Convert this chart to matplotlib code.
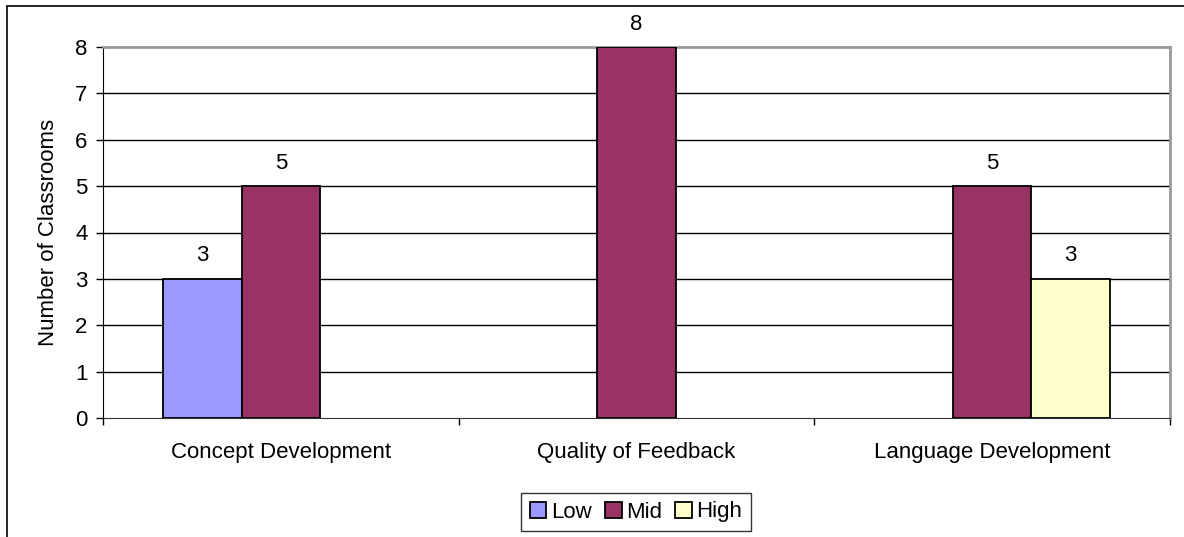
import matplotlib.pyplot as plt
from matplotlib.patches import Rectangle
import numpy as np

plt.rcParams['font.family'] = ['Liberation Sans', 'DejaVu Sans']

categories = ["Concept Development", "Quality of Feedback", "Language Development"]
low = [3, 0, 0]
mid = [5, 8, 5]
high = [0, 0, 3]

FS = 16

fig = plt.figure(figsize=(11.84, 5.37), dpi=100)
ax = fig.add_axes([103/1184, 1 - 418/537, (1170-103)/1184, (418-47)/537])

# outer chart border
fig.patches.append(Rectangle((7/1184, -0.05), 1.1, 1 - 6/537 + 0.05, transform=fig.transFigure,
                             fill=False, edgecolor='black', linewidth=1.2))

x = np.arange(len(categories))
w = 0.22
series = [("Low", low, "#9999FF", -w), ("Mid", mid, "#993366", 0), ("High", high, "#FFFFCC", w)]
for name, vals, col, off in series:
    xs = [xi + off for xi, v in zip(x, vals) if v > 0]
    vs = [v for v in vals if v > 0]
    bars = ax.bar(xs, vs, width=w, color=col, edgecolor='black', linewidth=1.3, label=name, zorder=3)
    for b, v in zip(bars, vs):
        ax.annotate(str(v), (b.get_x() + b.get_width()/2, v), xytext=(0, 9), textcoords='offset points',
                    ha='center', va='bottom', fontsize=FS, annotation_clip=False)

ax.set_xlim(-0.5, 2.5)
ax.set_ylim(0, 8)
ax.set_yticks(range(9))
ax.tick_params(axis='y', labelsize=FS, direction='out', length=5, width=1, pad=6)
ax.set_xticks([-0.5, 0.5, 1.5, 2.5])
ax.set_xticklabels([])
ax.tick_params(axis='x', direction='out', length=5, width=1)
for xi, c in zip(x, categories):
    ax.annotate(c, (xi, 0), xytext=(0, -24.5), textcoords='offset points',
                ha='center', va='center', fontsize=FS, annotation_clip=False)

for yv in range(1, 8):
    ax.axhline(yv, color='black', linewidth=1, zorder=1)
ax.spines['top'].set_color('#999999')
ax.spines['right'].set_color('#999999')
ax.spines['top'].set_linewidth(2)
ax.spines['right'].set_linewidth(2)
ax.spines['left'].set_color('black')
ax.spines['bottom'].set_color('#333333')

ax.set_ylabel("Number of Classrooms", fontsize=FS, labelpad=12)

leg = fig.legend(loc='center', bbox_to_anchor=(636/1184, 1 - 512/537), ncol=3, fontsize=FS,
                 frameon=True, fancybox=False, edgecolor='black', handlelength=0.75, handleheight=0.75,
                 handletextpad=0.2, columnspacing=0.6, borderpad=0.4)
leg.get_frame().set_linewidth(1)

fig.savefig("out.png", dpi=100)
